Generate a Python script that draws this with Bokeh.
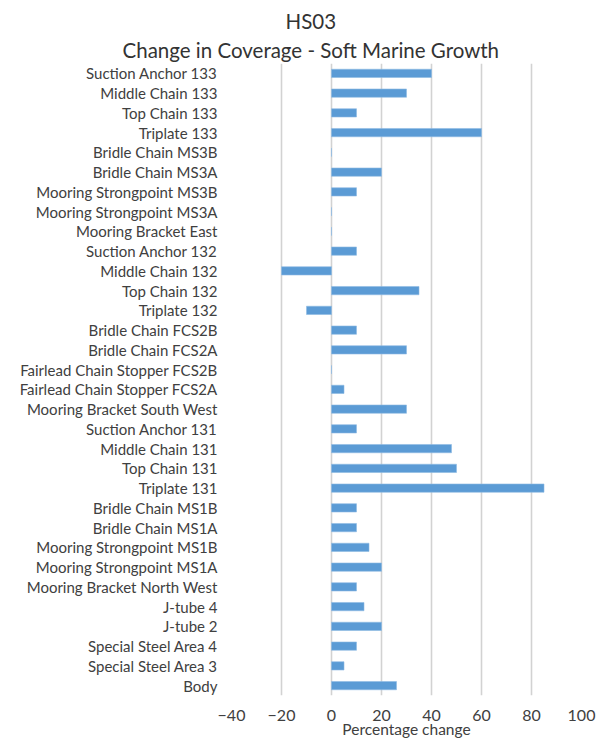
from bokeh.plotting import figure
from bokeh.models import FactorRange, Range1d, FixedTicker, Title
from bokeh.embed import file_html
from bokeh.resources import INLINE

categories = [
    "Suction Anchor 133", "Middle Chain 133", "Top Chain 133", "Triplate 133",
    "Bridle Chain MS3B", "Bridle Chain MS3A", "Mooring Strongpoint MS3B",
    "Mooring Strongpoint MS3A", "Mooring Bracket East", "Suction Anchor 132",
    "Middle Chain 132", "Top Chain 132", "Triplate 132", "Bridle Chain FCS2B",
    "Bridle Chain FCS2A", "Fairlead Chain Stopper FCS2B", "Fairlead Chain Stopper FCS2A",
    "Mooring Bracket South West", "Suction Anchor 131", "Middle Chain 131",
    "Top Chain 131", "Triplate 131", "Bridle Chain MS1B", "Bridle Chain MS1A",
    "Mooring Strongpoint MS1B", "Mooring Strongpoint MS1A", "Mooring Bracket North West",
    "J-tube 4", "J-tube 2", "Special Steel Area 4", "Special Steel Area 3", "Body",
]
values = [
    40, 30, 10, 60,
    0, 20, 10,
    0, 0, 10,
    -20, 35, -10, 10,
    30, 0, 5,
    30, 10, 48,
    50, 85, 10, 10,
    15, 20, 10,
    13, 20, 10, 5, 26,
]
x_ticks = [-40, -20, 0, 20, 40, 60, 80, 100]
title_line1 = "HS03"
title_line2 = "Change in Coverage - Soft Marine Growth"
x_label = "Percentage change"

FONT = "Lato"
TXT = "#404040"

p = figure(
    width=603, height=742,
    y_range=FactorRange(factors=list(reversed(categories))),
    x_range=Range1d(-40, 100),
    output_backend="svg", toolbar_location=None,
    min_border_left=231, min_border_right=22,
    min_border_top=63, min_border_bottom=47,
)
p.hbar(y=categories, right=values, left=0, height=0.42,
       fill_color="#5b9bd5", line_color="#8fbbe3", line_width=0.6)

# outer title line
p.title.text = title_line1
p.title.align = "left"
p.title.offset = 54
p.title.text_font = FONT
p.title.text_font_size = "20.5px"
p.title.text_font_style = "normal"
p.title.text_color = "#333333"
p.title.standoff = 2

# inner title line (nearest the plot)
p.add_layout(Title(text=title_line2, align="left", offset=-109, text_font=FONT,
                   text_font_size="20.5px", text_font_style="normal",
                   text_color="#333333", standoff=4), "above")

p.outline_line_color = None
p.xaxis.ticker = FixedTicker(ticks=x_ticks)
p.xaxis.axis_line_color = None
p.xaxis.major_tick_line_color = None
p.xaxis.minor_tick_line_color = None
p.xaxis.major_tick_out = 0
p.xaxis.major_tick_in = 0
p.xaxis.major_label_standoff = 14
p.xaxis.major_label_text_font = FONT
p.xaxis.major_label_text_font_size = "16px"
p.xaxis.major_label_text_color = TXT
p.xaxis.axis_label = x_label
p.xaxis.axis_label_standoff = -4
p.xaxis.axis_label_text_font = FONT
p.xaxis.axis_label_text_font_size = "15.5px"
p.xaxis.axis_label_text_font_style = "normal"
p.xaxis.axis_label_text_color = TXT

p.yaxis.axis_line_color = None
p.yaxis.major_tick_line_color = None
p.yaxis.minor_tick_line_color = None
p.yaxis.major_tick_out = 0
p.yaxis.major_tick_in = 0
p.yaxis.major_label_standoff = 14
p.yaxis.major_label_text_font = FONT
p.yaxis.major_label_text_font_size = "15px"
p.yaxis.major_label_text_color = TXT

p.ygrid.grid_line_color = None
p.xgrid.grid_line_color = "#d2d2d2"
p.xgrid.grid_line_width = 1.6

open("out.html", "w").write(file_html(p, INLINE))
